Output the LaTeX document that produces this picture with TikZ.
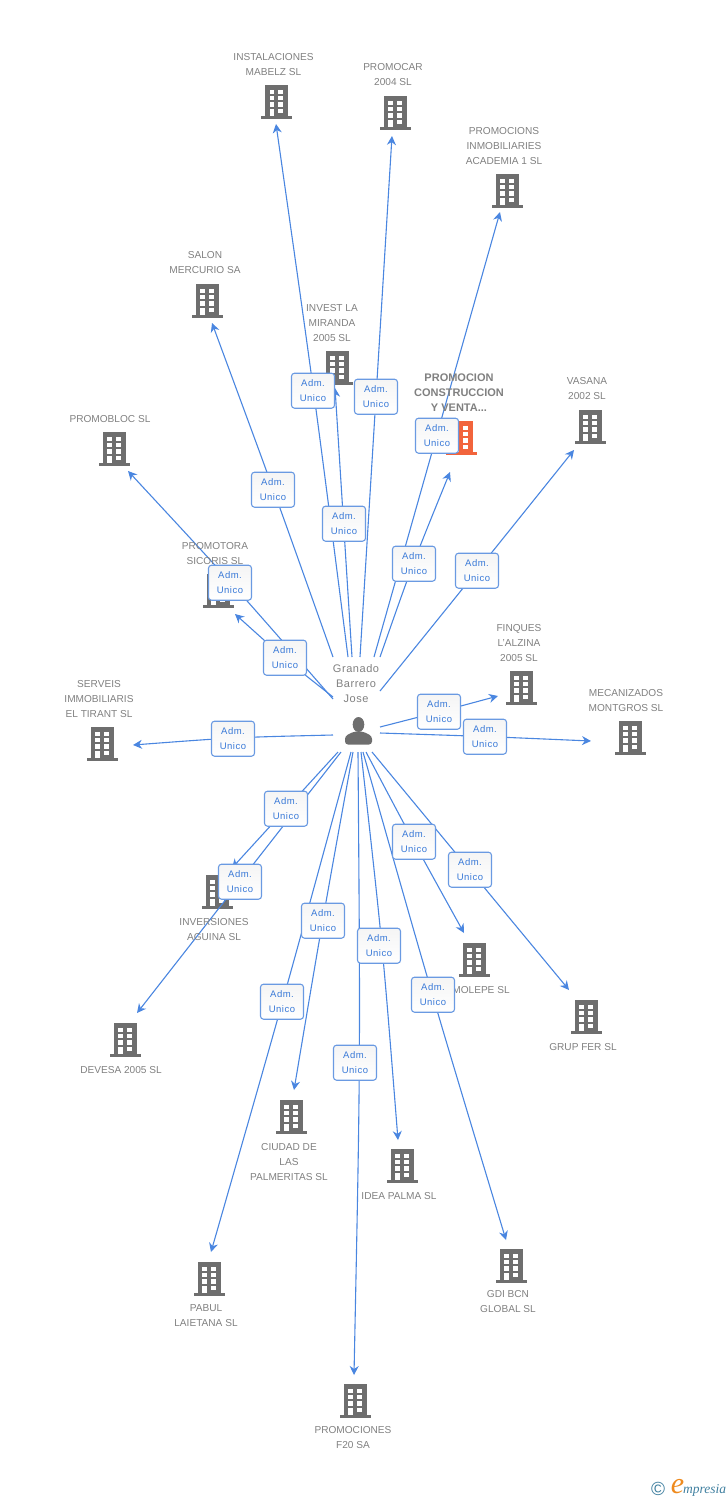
\documentclass[tikz,border=0pt]{standalone}
\usepackage{fontspec}
\setmainfont{Liberation Sans}
\newfontfamily\boxfont[LetterSpace=5]{Liberation Sans}
\newfontfamily\logofont{Liberation Serif}
\usetikzlibrary{arrows.meta,backgrounds,calc}
\definecolor{bldg}{HTML}{6E6E6E}
\definecolor{txt}{HTML}{808080}
\definecolor{linkblue}{HTML}{4A86E0}
\definecolor{boxblue}{HTML}{6A9AE2}
\definecolor{textblue}{HTML}{3A7AD8}
\definecolor{redbldg}{HTML}{F2643C}
\definecolor{logoteal}{HTML}{3F7F9F}
\definecolor{logoorange}{HTML}{EE8A1E}
\tikzset{
  firm/.style={text=txt,align=center,inner sep=0,yshift=-0.7pt,font=\fontsize{10.1}{15}\selectfont},
  adm/.style={draw=boxblue,line width=1.1pt,rounded corners=3pt,top color=black!4,bottom color=white,
    minimum width=43pt,minimum height=35pt,inner sep=0,align=center,text=textblue,yshift=-0.7pt,
    font=\boxfont\fontsize{9.5}{15}\selectfont},
  link/.style={draw=linkblue,line width=1.1pt,-{Stealth[length=9pt,width=9pt]}},
  building/.pic={
    \fill[#1] (-11.5,-34) rectangle (11.5,-1);
    \fill[#1] (-15.5,-3) rectangle (15.5,0);
    \fill[white] (-7,-29.5) rectangle (-2.5,-25.5);
    \fill[white] (1.5,-29.5) rectangle (6.5,-25.5);
    \fill[white] (-7,-23.3) rectangle (-2.5,-19);
    \fill[white] (1.5,-23.3) rectangle (6.5,-19);
    \fill[white] (-7,-16.7) rectangle (-2.5,-12.3);
    \fill[white] (1.5,-16.7) rectangle (6.5,-12.3);
    \fill[white] (-7,-10) rectangle (-2.5,-3);
    \fill[white] (1.5,-10) rectangle (6.5,-6);
  }
}
\newcommand{\link}[3]{\draw[link] (#1) .. controls ($2*(#2)-0.5*(#1)-0.5*(#3)$) .. (#3);}
\begin{document}
\begin{tikzpicture}[x=1pt,y=-1pt]
\useasboundingbox (0,0) rectangle (728,1500);

\node[firm] (instalaciones) at (273.5,63.5) {INSTALACIONES\\MABELZ SL};
\node[firm] (promocar) at (393,74) {PROMOCAR\\2004 SL};
\node[firm] (inmobiliaries) at (504,145) {PROMOCIONS\\INMOBILIARIES\\ACADEMIA 1 SL};
\node[firm] (salon) at (205,262) {SALON\\MERCURIO SA};
\node[firm] (invest) at (332,322) {INVEST LA\\MIRANDA\\2005 SL};
\node[firm,font=\fontsize{11}{15}\selectfont\bfseries] (construccion) at (459,392) {PROMOCION\\CONSTRUCCION\\Y VENTA...};
\node[firm] (vasana) at (587,388) {VASANA\\2002 SL};
\node[firm] (promobloc) at (110,418) {PROMOBLOC SL};
\node[firm] (sicoris) at (215,553) {PROMOTORA\\SICORIS SL};
\node[firm] (finques) at (519,642) {FINQUES\\L'ALZINA\\2005 SL};
\node[firm] (montgros) at (626,700) {MECANIZADOS\\MONTGROS SL};
\node[firm] (tirant) at (99,698) {SERVEIS\\IMMOBILIARIS\\EL TIRANT SL};
\node[firm] (aguina) at (214,929) {INVERSIONES\\AGUINA SL};
\node[firm] (devesa) at (121,1069) {DEVESA 2005 SL};
\node[firm] (molepe) at (481,989) {MOLEPE SL};
\node[firm] (grupfer) at (583,1046) {GRUP FER SL};
\node[firm] (palmeritas) at (289,1161) {CIUDAD DE\\LAS\\PALMERITAS SL};
\node[firm] (ideapalma) at (399,1195) {IDEA PALMA SL};
\node[firm] (pabul) at (206,1315) {PABUL\\LAIETANA SL};
\node[firm] (gdi) at (508,1301) {GDI BCN\\GLOBAL SL};
\node[firm] (ftwenty) at (353,1437) {PROMOCIONES\\F20 SA};
\node[firm,font=\boxfont\fontsize{11}{15}\selectfont] (granado) at (356,682.5) {Granado\\Barrero\\Jose};

\node[adm] (b1) at (313,390) {Adm.\\Unico};
\node[adm] (b2) at (376,396) {Adm.\\Unico};
\node[adm] (b3) at (344,523) {Adm.\\Unico};
\node[adm] (b4) at (273,489) {Adm.\\Unico};
\node[adm] (b5) at (437,435) {Adm.\\Unico};
\node[adm] (b6) at (414,563) {Adm.\\Unico};
\node[adm] (b7) at (477,570) {Adm.\\Unico};
\node[adm] (b8) at (230,582) {Adm.\\Unico};
\node[adm] (b9) at (285,657) {Adm.\\Unico};
\node[adm] (b10) at (233,738) {Adm.\\Unico};
\node[adm] (b11) at (439,711) {Adm.\\Unico};
\node[adm] (b12) at (485,736) {Adm.\\Unico};
\node[adm] (b13) at (286,808) {Adm.\\Unico};
\node[adm] (b14) at (240,881) {Adm.\\Unico};
\node[adm] (b15) at (414,841) {Adm.\\Unico};
\node[adm] (b16) at (470,869) {Adm.\\Unico};
\node[adm] (b17) at (323,920) {Adm.\\Unico};
\node[adm] (b18) at (379,945) {Adm.\\Unico};
\node[adm] (b19) at (282,1001) {Adm.\\Unico};
\node[adm] (b20) at (433,994) {Adm.\\Unico};
\node[adm] (b21) at (355,1062) {Adm.\\Unico};

\coordinate (s1) at (348,657);
\coordinate (s2) at (360,657);
\coordinate (s3) at (352,657);
\coordinate (s4) at (333,657);
\coordinate (s5) at (374,657);
\coordinate (s6) at (380,657);
\coordinate (s7) at (380,691);
\coordinate (s8) at (333,699);
\coordinate (s9) at (333,697);
\coordinate (s10) at (333,735);
\coordinate (s11) at (380,727);
\coordinate (s12) at (380,733);
\coordinate (s13) at (338,752);
\coordinate (s14) at (341,752);
\coordinate (s15) at (366,752);
\coordinate (s16) at (372,752);
\coordinate (s17) at (353,752);
\coordinate (s18) at (361,752);
\coordinate (s19) at (351,752);
\coordinate (s20) at (363,752);
\coordinate (s21) at (358,752);

\coordinate (m18) at (381,945);
\coordinate (m21) at (358.2,1063);

\coordinate (t1) at (276,124);
\coordinate (t2) at (392,136);
\coordinate (t3) at (335,388);
\coordinate (t4) at (212,323);
\coordinate (t5) at (500,212);
\coordinate (t6) at (450,472);
\coordinate (t7) at (574,450);
\coordinate (t8) at (128,471);
\coordinate (t9) at (235,614);
\coordinate (t10) at (133,745);
\coordinate (t11) at (498,696);
\coordinate (t12) at (591,741);
\coordinate (t13) at (232,868);
\coordinate (t14) at (137,1013);
\coordinate (t15) at (464,933);
\coordinate (t16) at (569,990);
\coordinate (t17) at (294,1090);
\coordinate (t18) at (398,1140);
\coordinate (t19) at (211,1252);
\coordinate (t20) at (506,1240);
\coordinate (t21) at (354,1375);

\begin{scope}[on background layer]
\pic at (276.5,119) {building=bldg};
\pic at (395,130) {building=bldg};
\pic at (507,208) {building=bldg};
\pic at (207,318) {building=bldg};
\pic at (337,385) {building=bldg};
\pic at (461,455) {building=redbldg};
\pic at (590,444) {building=bldg};
\pic at (114,466) {building=bldg};
\pic at (218,608) {building=bldg};
\pic at (521,705) {building=bldg};
\pic at (630,755) {building=bldg};
\pic at (102,761) {building=bldg};
\pic at (217,909) {building=bldg};
\pic at (125,1057) {building=bldg};
\pic at (474,977) {building=bldg};
\pic at (586,1034) {building=bldg};
\pic at (291,1134) {building=bldg};
\pic at (402,1183) {building=bldg};
\pic at (209,1296) {building=bldg};
\pic at (511,1283) {building=bldg};
\pic at (355,1418) {building=bldg};

\link{s1}{b1}{t1}
\link{s2}{b2}{t2}
\link{s3}{b3}{t3}
\link{s4}{b4}{t4}
\link{s5}{b5}{t5}
\link{s6}{b6}{t6}
\link{s7}{b7}{t7}
\link{s8}{b8}{t8}
\link{s9}{b9}{t9}
\link{s10}{b10}{t10}
\link{s11}{b11}{t11}
\link{s12}{b12}{t12}
\link{s13}{b13}{t13}
\link{s14}{b14}{t14}
\link{s15}{b15}{t15}
\link{s16}{b16}{t16}
\link{s17}{b17}{t17}
\link{s18}{m18}{t18}
\link{s19}{b19}{t19}
\link{s20}{b20}{t20}
\link{s21}{m21}{t21}
\end{scope}

\fill[bldg] (358.5,724.5) ellipse (5.8 and 7.5);
\fill[bldg,rounded corners=3pt] (345,744.5) -- (345,736) -- (354,731.5) -- (363,731.5) -- (372,736) -- (372,744.5) -- cycle;

\node[text=logoteal,inner sep=0,font=\fontsize{19}{19}\selectfont] (copyright) at (658,1488.5) {\char"00A9};
\node[text=logoorange,inner sep=0,font=\logofont\fontsize{30}{30}\selectfont\itshape] (logoe) at (677.5,1487) {e};
\node[text=logoteal,inner sep=0,anchor=base west,font=\logofont\fontsize{13.5}{13}\selectfont\itshape] (logotext) at (683,1493) {mpresia};
\end{tikzpicture}
\end{document}
